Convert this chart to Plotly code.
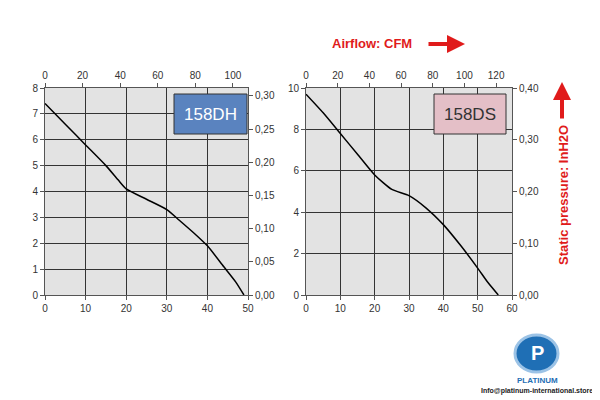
import plotly.graph_objects as go

# 158DH curve: airflow m3/h vs pressure mmH2O
dh_flow = [0, 5, 10, 15, 18, 20, 25, 30, 33, 37, 40, 44, 47, 49]
dh_press = [7.4, 6.6, 5.8, 5.0, 4.45, 4.1, 3.7, 3.3, 2.9, 2.35, 1.9, 1.1, 0.5, 0]
# 158DS curve
ds_flow = [0, 5, 10, 15, 20, 25, 30, 35, 40, 45, 50, 53, 56]
ds_press = [9.7, 8.8, 7.8, 6.8, 5.8, 5.1, 4.8, 4.2, 3.4, 2.4, 1.3, 0.6, 0]

# page body has an 8px margin, so compensate when converting screen pixels
def px(x):
    return (x - 8) / 600

def py(y):
    return 1 - (y - 8) / 400

GRID = "#333"
line = dict(color="black", width=1.5, shape="spline", smoothing=0.6)
fig = go.Figure()
fig.add_trace(go.Scatter(x=dh_flow, y=dh_press, mode="lines", line=line,
                         xaxis="x", yaxis="y", showlegend=False))
fig.add_trace(go.Scatter(x=ds_flow, y=ds_press, mode="lines", line=line,
                         xaxis="x3", yaxis="y3", showlegend=False))

tf = dict(size=10, color="#333", family="Arial")
def ax(**kw):
    d = dict(showline=True, linecolor="#555", ticks="outside", ticklen=4, tickcolor="#555",
             tickfont=tf, zeroline=False, automargin=False)
    d.update(kw)
    return d

L = [px(45), px(248)]
R = [px(306), px(512)]
Y = [py(295), py(88)]

fig.update_layout(
    width=600, height=400, margin=dict(l=0, r=0, t=0, b=0),
    paper_bgcolor="white", plot_bgcolor="#e3e3e3",
    xaxis=ax(domain=L, range=[0, 50], dtick=10, showgrid=True, gridcolor=GRID, anchor="y"),
    yaxis=ax(domain=Y, range=[0, 8], dtick=1, showgrid=True, gridcolor=GRID, anchor="x"),
    xaxis2=ax(domain=L, range=[0, 108], tickvals=[0, 20, 40, 60, 80, 100], overlaying="x",
              side="top", anchor="y", showgrid=False),
    yaxis2=ax(range=[0, 0.312], tickvals=[0, 0.05, 0.1, 0.15, 0.2, 0.25, 0.3],
              ticktext=["0,00", "0,05", "0,10", "0,15", "0,20", "0,25", "0,30"],
              overlaying="y", side="right", anchor="x", showgrid=False),
    xaxis3=ax(domain=R, range=[0, 60], dtick=10, showgrid=True, gridcolor=GRID, anchor="y3"),
    yaxis3=ax(domain=Y, range=[0, 10], dtick=2, showgrid=True, gridcolor=GRID, anchor="x3"),
    xaxis4=ax(domain=R, range=[0, 130], tickvals=[0, 20, 40, 60, 80, 100, 120], overlaying="x3",
              side="top", anchor="y3", showgrid=False),
    yaxis4=ax(range=[0, 0.4], tickvals=[0, 0.1, 0.2, 0.3, 0.4],
              ticktext=["0,00", "0,10", "0,20", "0,30", "0,40"],
              overlaying="y3", side="right", anchor="x3", showgrid=False),
)
# invisible traces so secondary axes render
for xa, ya in [("x2", "y2"), ("x4", "y4")]:
    fig.add_trace(go.Scatter(x=[0], y=[0], mode="markers", marker=dict(opacity=0),
                             xaxis=xa, yaxis=ya, showlegend=False, hoverinfo="skip"))

def label(x, y, text, size, color, **kw):
    fig.add_annotation(x=px(x), y=py(y), xref="paper", yref="paper", text=text, showarrow=False,
                       xanchor="center", yanchor="middle",
                       font=dict(size=size, color=color, family="Arial"), **kw)

# model labels
fig.add_shape(type="rect", xref="paper", yref="paper", x0=px(174), x1=px(247), y0=py(134), y1=py(94),
              fillcolor="#5a83bf", line=dict(color="#333", width=1))
label(210, 114, "158DH", 17, "white")
fig.add_shape(type="rect", xref="paper", yref="paper", x0=px(434), x1=px(506), y0=py(134), y1=py(94),
              fillcolor="#e4bfc7", line=dict(color="#333", width=1))
label(470, 114, "158DS", 17, "#333")

# axis titles
red = "#e01b1b"
label(372, 44, "<b>Airflow: CFM</b>", 13, red)
fig.add_annotation(x=px(465), y=py(44), ax=-38, ay=0, xref="paper", yref="paper", text="",
                   showarrow=True, arrowhead=2, arrowsize=0.9, arrowwidth=4, arrowcolor=red)
label(563, 195, "<b>Static pressure: InH2O</b>", 13, red, textangle=-90)
fig.add_annotation(x=px(562), y=py(82), ax=0, ay=38, xref="paper", yref="paper", text="",
                   showarrow=True, arrowhead=2, arrowsize=0.9, arrowwidth=4, arrowcolor=red)

# logo
fig.add_shape(type="circle", xref="paper", yref="paper", x0=px(515), x1=px(558), y0=py(372), y1=py(335),
              fillcolor="#1f6fb5", line=dict(color="#9cc3e6", width=3))
label(537, 353, "<b>P</b>", 20, "white")
label(537, 380, "<b>PLATINUM</b>", 8, "#1f6fb5")
label(537, 391, "<b>Info@platinum-international.store</b>", 7, "#222")

fig.write_html("out.html")
